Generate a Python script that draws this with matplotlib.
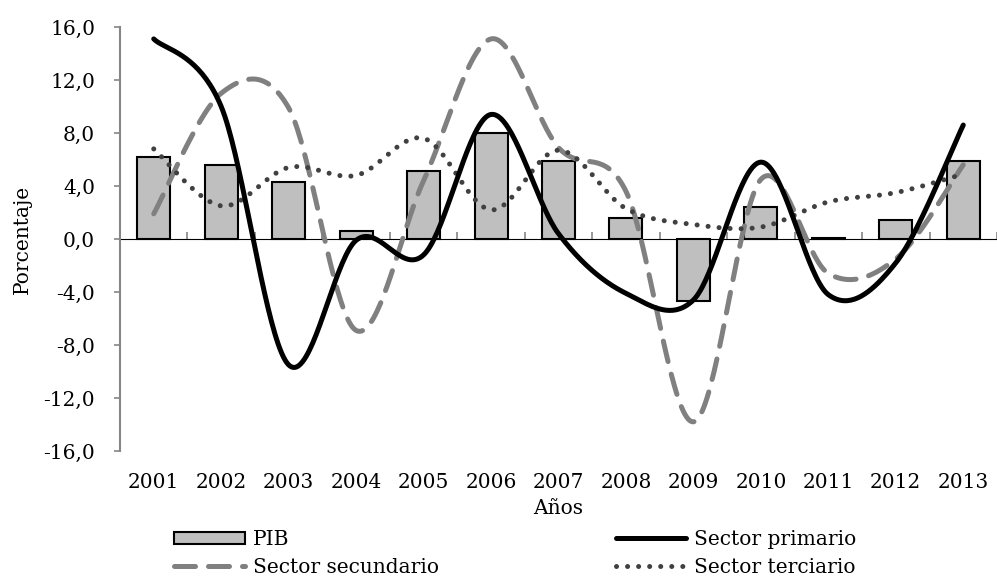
import numpy as np
import matplotlib.pyplot as plt
from matplotlib.patches import Patch
from matplotlib.lines import Line2D
from matplotlib.ticker import FuncFormatter

# datos (porcentaje)
anios = ['2001', '2002', '2003', '2004', '2005', '2006', '2007',
         '2008', '2009', '2010', '2011', '2012', '2013']
pib = [6.2, 5.6, 4.3, 0.6, 5.1, 8.0, 5.9, 1.6, -4.7, 2.4, 0.1, 1.4, 5.9]
primario = [15.1, 10.0, -9.5, -0.1, -1.2, 9.4, 0.4, -4.1, -4.6, 5.8, -4.2, -1.8, 8.6]
secundario = [1.9, 11.0, 9.9, -6.9, 4.4, 15.1, 6.9, 3.6, -13.8, 4.5, -2.6, -1.5, 5.6]
terciario = [6.8, 2.5, 5.4, 4.8, 7.6, 2.2, 6.7, 2.3, 1.1, 0.9, 2.8, 3.5, 4.9]


def suavizar(x, y, n=40):
    # curva suavizada tipo Excel (Bezier / Catmull-Rom)
    x = np.asarray(x, float)
    y = np.asarray(y, float)
    px = np.concatenate([[x[0]], x, [x[-1]]])
    py = np.concatenate([[y[0]], y, [y[-1]]])
    t = np.linspace(0, 1, n)[:, None]
    xs, ys = [], []
    for i in range(1, len(px) - 2):
        p0 = np.array([px[i], py[i]])
        p3 = np.array([px[i + 1], py[i + 1]])
        c1 = p0 + (np.array([px[i + 1], py[i + 1]]) - np.array([px[i - 1], py[i - 1]])) / 6
        c2 = p3 - (np.array([px[i + 2], py[i + 2]]) - np.array([px[i], py[i]])) / 6
        b = ((1 - t) ** 3) * p0 + 3 * ((1 - t) ** 2) * t * c1 + 3 * (1 - t) * t ** 2 * c2 + t ** 3 * p3
        xs.append(b[:, 0])
        ys.append(b[:, 1])
    return np.concatenate(xs), np.concatenate(ys)


plt.rcParams['font.family'] = ['DejaVu Serif']
fs = 14.5

fig = plt.figure(figsize=(9.97, 5.8), dpi=100)
ax = fig.add_axes([120 / 997, 129 / 580, 877 / 997, 424 / 580])

x = np.arange(len(anios))
ax.bar(x, pib, width=0.49, color='#BFBFBF', edgecolor='black', linewidth=1.5, zorder=2)

estilo_sec = dict(color='#808080', lw=3.6, linestyle=(0, (4.2, 2.6)), dash_capstyle='round')
estilo_ter = dict(color='#404040', lw=3.6, linestyle=(0, (0.01, 2.2)), dash_capstyle='round')
estilo_pri = dict(color='black', lw=3.6, solid_capstyle='round')

xs, ys = suavizar(x, secundario)
ax.plot(xs, ys, zorder=3, **estilo_sec)
xs, ys = suavizar(x, terciario)
ax.plot(xs, ys, zorder=4, **estilo_ter)
xs, ys = suavizar(x, primario)
ax.plot(xs, ys, zorder=5, **estilo_pri)

ax.set_xlim(-0.5, len(anios) - 0.5)
ax.set_ylim(-16, 16)
ax.set_yticks(np.arange(-16, 17, 4))
ax.yaxis.set_major_formatter(FuncFormatter(lambda v, p: f'{v:.1f}'.replace('.', ',')))
ax.tick_params(axis='y', direction='out', length=4, color='#868686', width=1.2,
               labelsize=fs, pad=14)
ax.set_xticks(x)
ax.set_xticklabels(anios)
ax.tick_params(axis='x', length=0, labelsize=fs, pad=16)

for s in ['top', 'right', 'bottom']:
    ax.spines[s].set_visible(False)
ax.spines['left'].set_color('#868686')
ax.spines['left'].set_linewidth(1.5)

# eje horizontal en cero con marcas entre categorias
eje0 = ax.secondary_xaxis(0.5)
eje0.set_xticks(np.arange(-0.5, len(anios), 1.0))
eje0.set_xticklabels([])
eje0.tick_params(direction='out', length=5, color='#868686', width=1.2)
eje0.spines['bottom'].set_color('#868686')
eje0.spines['bottom'].set_linewidth(1.5)

ax.set_ylabel('Porcentaje', fontsize=fs, labelpad=8)
ax.set_xlabel('Años', fontsize=fs, labelpad=5)

# orden por columnas: PIB / secundario | primario / terciario
handles = [
    Patch(facecolor='#BFBFBF', edgecolor='black', linewidth=1.5),
    Line2D([], [], **estilo_sec),
    Line2D([], [], **estilo_pri),
    Line2D([], [], **estilo_ter),
]
labels = ['PIB', 'Sector secundario', 'Sector primario', 'Sector terciario']
fig.legend(handles, labels, ncol=2, loc='upper left', bbox_to_anchor=(164 / 997, 1 - 520 / 580),
           frameon=False, fontsize=fs, handlelength=3.5, handleheight=0.6, handletextpad=0.4,
           columnspacing=8.8, labelspacing=0.45, borderpad=0)

fig.savefig('out.png', dpi=100)
